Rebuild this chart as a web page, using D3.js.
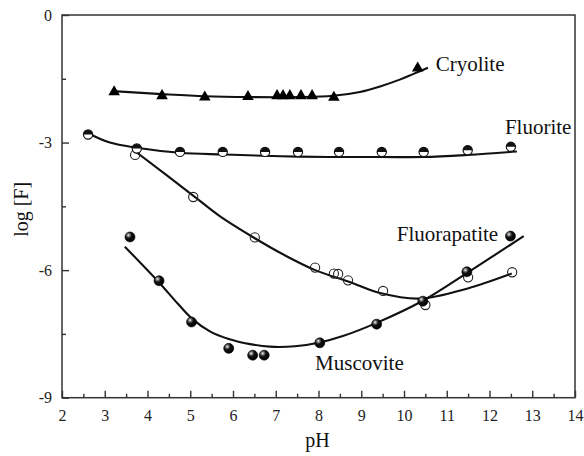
<!DOCTYPE html>
<html>
<head>
<meta charset="utf-8">
<script src="https://cdn.jsdelivr.net/npm/d3@7"></script>
<style>
  html, body { margin: 0; padding: 0; background: #fff; }
  svg { display: block; }
  .tick text { font-family: "Liberation Serif", "Times New Roman", serif; font-size: 16px; fill: #222; }
  .lbl { font-family: "Liberation Serif", "Times New Roman", serif; fill: #111; }
</style>
</head>
<body>
<svg id="chart" width="584" height="456"></svg>
<script>
// ---- measured data (pH vs log[F]) ----
const cryoliteX = [3.22, 4.34, 5.34, 6.35, 7.03, 7.17, 7.33, 7.59, 7.85, 8.36, 10.32];
const cryoliteY = [-1.81, -1.90, -1.93, -1.92, -1.90, -1.90, -1.90, -1.90, -1.90, -1.94, -1.25];

const fluoriteX = [2.61, 3.75, 4.76, 5.76, 6.75, 7.52, 8.48, 9.48, 10.46, 11.49, 12.50];
const fluoriteY = [-2.81, -3.14, -3.22, -3.22, -3.22, -3.22, -3.22, -3.22, -3.22, -3.18, -3.10];

const fluorapatiteX = [3.71, 5.07, 6.51, 7.92, 8.36, 8.46, 8.69, 9.51, 10.50, 11.50, 12.53];
const fluorapatiteY = [-3.29, -4.28, -5.23, -5.94, -6.08, -6.09, -6.24, -6.49, -6.82, -6.17, -6.05];

const muscoviteX = [3.59, 4.27, 5.03, 5.90, 6.46, 6.73, 8.03, 9.36, 10.44, 11.47, 12.49];
const muscoviteY = [-5.22, -6.25, -7.22, -7.84, -8.00, -8.00, -7.71, -7.27, -6.73, -6.04, -5.20];

// ---- fitted trend curves (sampled along each fit) ----
const cryoliteFitX = [3.19, 4.34, 5.34, 6.40, 7.56, 8.34, 8.97, 9.44, 9.90, 10.21, 10.56];
const cryoliteFitY = [-1.79, -1.86, -1.91, -1.93, -1.93, -1.90, -1.81, -1.68, -1.52, -1.39, -1.24];

const fluoriteFitX = [2.61, 3.12, 3.75, 4.76, 5.76, 6.72, 7.52, 8.48, 9.48, 10.46, 11.49, 12.64];
const fluoriteFitY = [-2.78, -3.00, -3.12, -3.24, -3.28, -3.31, -3.33, -3.34, -3.34, -3.34, -3.29, -3.21];

const fluorapatiteFitX = [3.68, 5.06, 5.69, 6.51, 7.21, 7.92, 8.73, 9.44, 10.37, 11.49, 12.52];
const fluorapatiteFitY = [-3.18, -4.24, -4.73, -5.25, -5.65, -6.00, -6.28, -6.54, -6.67, -6.43, -6.08];

const muscoviteFitX = [3.47, 4.27, 4.70, 5.04, 5.46, 5.90, 6.40, 6.86, 7.45, 8.03, 8.57, 9.36, 10.44, 11.47, 12.80];
const muscoviteFitY = [-5.45, -6.29, -6.78, -7.14, -7.44, -7.62, -7.74, -7.80, -7.79, -7.70, -7.55, -7.24, -6.72, -6.07, -5.20];

// ---- axis ticks ----
const xMajorTicks = [2, 3, 4, 5, 6, 7, 8, 9, 10, 11, 12, 13, 14];
const xMinorTicks = [2.5, 3.5, 4.5, 5.5, 6.5, 7.5, 8.5, 9.5, 10.5, 11.5, 12.5, 13.5];
const yMajorTicks = [0, -3, -6, -9];
const yMinorTicks = [-1.5, -4.5, -7.5];

// ---- curve labels ----
const labelNames = ["Cryolite", "Fluorite", "Fluorapatite", "Muscovite"];
const labelX = [10.74, 12.36, 9.83, 7.92];
const labelY = [-1.32, -2.81, -5.31, -8.35];

const svg = d3.select("#chart");
const plotLeft = 62, plotRight = 575, plotTop = 15, plotBottom = 397.7;

const x = d3.scaleLinear().domain([2, 14]).range([plotLeft, plotRight]);
const y = d3.scaleLinear().domain([0, -9]).range([plotTop, plotBottom]);

const zip = (xs, ys) => xs.map((v, i) => [v, ys[i]]);

// gradient for the glossy solid spheres
const defs = svg.append("defs");
const grad = defs.append("radialGradient").attr("id", "sphere")
  .attr("cx", "35%").attr("cy", "32%").attr("r", "70%");
grad.append("stop").attr("offset", "0%").attr("stop-color", "#f4f4f4");
grad.append("stop").attr("offset", "22%").attr("stop-color", "#777");
grad.append("stop").attr("offset", "45%").attr("stop-color", "#111");
grad.append("stop").attr("offset", "100%").attr("stop-color", "#000");

// axes
const axisG = svg.append("g");
axisG.append("g").attr("transform", `translate(0,${plotBottom})`)
  .call(d3.axisBottom(x).tickValues(xMajorTicks).tickSizeInner(-7).tickSizeOuter(0)
        .tickPadding(12).tickFormat(d => String(d)));
axisG.append("g").attr("transform", `translate(0,${plotBottom})`)
  .call(d3.axisBottom(x).tickValues(xMinorTicks).tickSizeInner(-4).tickSizeOuter(0).tickFormat(""));
axisG.append("g").attr("transform", `translate(${plotLeft},0)`)
  .call(d3.axisLeft(y).tickValues(yMajorTicks).tickSizeInner(-7).tickSizeOuter(0)
        .tickPadding(10).tickFormat(d => String(d)));
axisG.append("g").attr("transform", `translate(${plotLeft},0)`)
  .call(d3.axisLeft(y).tickValues(yMinorTicks).tickSizeInner(-4).tickSizeOuter(0).tickFormat(""));
axisG.selectAll(".domain").remove();
axisG.selectAll(".tick line").attr("stroke", "#333").attr("stroke-width", 1.4);

// plot frame
svg.append("rect").attr("x", plotLeft).attr("y", plotTop)
  .attr("width", plotRight - plotLeft).attr("height", plotBottom - plotTop)
  .attr("fill", "none").attr("stroke", "#333").attr("stroke-width", 1.5);

// axis titles
svg.append("text").attr("class", "lbl").attr("x", (plotLeft + plotRight) / 2 - 1).attr("y", 447)
  .attr("text-anchor", "middle").style("font-size", "20px").text("pH");
svg.append("text").attr("class", "lbl")
  .attr("transform", `translate(28,${(plotTop + plotBottom) / 2 + 3}) rotate(-90)`)
  .attr("text-anchor", "middle").style("font-size", "20px").text("log [F]");

// fitted curves
const line = d3.line().x(d => x(d[0])).y(d => y(d[1])).curve(d3.curveCatmullRom.alpha(0.5));
const fits = [
  zip(cryoliteFitX, cryoliteFitY),
  zip(fluoriteFitX, fluoriteFitY),
  zip(fluorapatiteFitX, fluorapatiteFitY),
  zip(muscoviteFitX, muscoviteFitY)
];
svg.append("g").selectAll("path").data(fits).join("path")
  .attr("d", line).attr("fill", "none").attr("stroke", "#111").attr("stroke-width", 2.1);

// Cryolite: solid triangles
svg.append("g").selectAll("path").data(zip(cryoliteX, cryoliteY)).join("path")
  .attr("transform", d => `translate(${x(d[0])},${y(d[1])})`)
  .attr("d", d3.symbol(d3.symbolTriangle, 58)).attr("fill", "#000");

// Fluorapatite: open circles
svg.append("g").selectAll("circle").data(zip(fluorapatiteX, fluorapatiteY)).join("circle")
  .attr("cx", d => x(d[0])).attr("cy", d => y(d[1])).attr("r", 4.6)
  .attr("fill", "none").attr("stroke", "#222").attr("stroke-width", 1.1);

// Fluorite: half-filled circles (upper half dark)
const r = 4.6;
const fl = svg.append("g").selectAll("g").data(zip(fluoriteX, fluoriteY)).join("g")
  .attr("transform", d => `translate(${x(d[0])},${y(d[1])})`);
fl.append("circle").attr("r", r).attr("fill", "#fff").attr("stroke", "#111").attr("stroke-width", 1.2);
fl.append("path").attr("d", `M${-r},0 A${r},${r} 0 0 1 ${r},0 Z`).attr("fill", "#111");

// Muscovite: glossy solid spheres
svg.append("g").selectAll("circle").data(zip(muscoviteX, muscoviteY)).join("circle")
  .attr("cx", d => x(d[0])).attr("cy", d => y(d[1])).attr("r", 5)
  .attr("fill", "url(#sphere)").attr("stroke", "#000").attr("stroke-width", 0.6);

// curve labels
svg.append("g").selectAll("text").data(labelNames).join("text")
  .attr("class", "lbl").attr("x", (d, i) => x(labelX[i])).attr("y", (d, i) => y(labelY[i]))
  .style("font-size", "21px").text(d => d);
</script>
</body>
</html>
